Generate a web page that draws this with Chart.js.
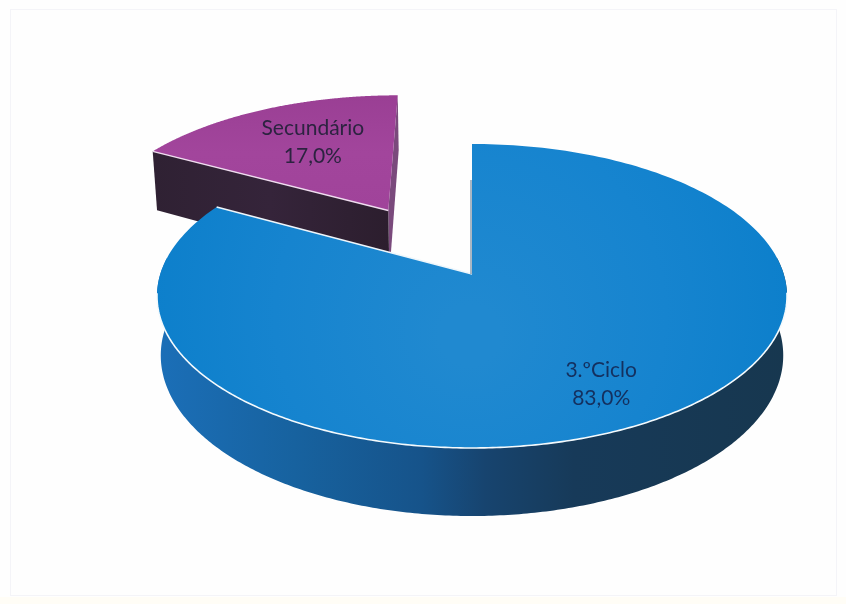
<!DOCTYPE html>
<html lang="pt">
<head>
<meta charset="utf-8">
<style>
html,body{margin:0;padding:0;background:#fefefe;}
#wrap{width:846px;height:604px;}
canvas{display:block;filter:blur(0.45px);}
</style>
<script src="https://cdn.jsdelivr.net/npm/chart.js@4"></script>
</head>
<body>
<div id="wrap"><canvas id="c" width="846" height="604"></canvas></div>
<script>
const categories = ["Secundário", "3.ºCiclo"];
const seriesValues = [17.0, 83.0];
const sliceOffsets = [127, 0];
const valueLabels = ["17,0%", "83,0%"];
const labelRadii = [0.68, 0.76];
const labelNudges = [[8, 2.5], [-4, 3]];
const labelColors = ["#2c2340", "#14305f"];
const wallDepths = [1.15, 1];
const sliceShifts = [[-4.5, 0.5], [0, 0]];

// projection of the pie plane
const VIEW = {cx:472, cy:274, a:311.7, b:148.8, p:0.1447, depth:58.2, taper:0.012};
function project(u, v, z) {
  const w = 1 - VIEW.p * v;
  return {
    x: VIEW.cx + VIEW.a * u / w * (1 - VIEW.taper * z),
    y: VIEW.cy + VIEW.b * v / w + z * VIEW.depth / w
  };
}
function arcGeom(arc, shift) {
  const mid = (arc.startAngle + arc.endAngle) / 2;
  const off = (arc.options.offset || 0) / arc.outerRadius;
  return {mid, ox: Math.cos(mid) * off, oy: Math.sin(mid) * off, s: arc.startAngle, e: arc.endAngle, shift};
}
function pt(g, r, ang, z) {
  const q = project(g.ox + r * Math.cos(ang), g.oy + r * Math.sin(ang), z);
  return {x: q.x + g.shift[0], y: q.y + g.shift[1]};
}
function quad(ctx, pts, fill) {
  ctx.beginPath();
  pts.forEach((q, i) => i ? ctx.lineTo(q.x, q.y) : ctx.moveTo(q.x, q.y));
  ctx.closePath();
  ctx.fillStyle = fill;
  ctx.fill();
}
function topFace(ctx, g, fill) {
  ctx.beginPath();
  const a = pt(g, 0, 0, 0);
  ctx.moveTo(a.x, a.y);
  const n = 240;
  for (let i = 0; i <= n; i++) {
    const q = pt(g, 1, g.s + (g.e - g.s) * i / n, 0);
    ctx.lineTo(q.x, q.y);
  }
  ctx.closePath();
  ctx.fillStyle = fill;
  ctx.fill();
}
function line(ctx, a, b, color, w) {
  ctx.beginPath(); ctx.moveTo(a.x, a.y); ctx.lineTo(b.x, b.y);
  ctx.strokeStyle = color; ctx.lineWidth = w; ctx.stroke();
}

const pie3d = {
  id: "pie3d",
  beforeDraw(chart) {
    const ctx = chart.ctx;
    ctx.save();
    ctx.fillStyle = "#fefefe";
    ctx.fillRect(0, 0, chart.width, chart.height);
    ctx.strokeStyle = "#f4f4f8";
    ctx.lineWidth = 1;
    ctx.strokeRect(10.5, 9.5, 826, 586);
    ctx.fillStyle = "#fffdf6";
    ctx.fillRect(0, 597, chart.width, 7);
    ctx.restore();
  },
  beforeDatasetDraw(chart) {
    const ctx = chart.ctx;
    const arcs = chart.getDatasetMeta(0).data;
    const gP = arcGeom(arcs[0], sliceShifts[0]);
    const gB = arcGeom(arcs[1], sliceShifts[1]);
    ctx.save();

    // exploded slice
    const zP = wallDepths[0];
    const pA0 = pt(gP, 0, 0, 0), pA1 = pt(gP, 0, 0, zP);
    const pL0 = pt(gP, 1, gP.s, 0), pL1 = pt(gP, 1, gP.s, zP);
    const pR0 = pt(gP, 1, gP.e, 0), pR1 = pt(gP, 1, gP.e, zP);
    quad(ctx, [pR0, pR1, pA1, pA0], "#7a4a7c");
    const darkP = ctx.createLinearGradient(pL0.x, 0, pA0.x, 0);
    darkP.addColorStop(0, "#2f2133");
    darkP.addColorStop(0.5, "#35243a");
    darkP.addColorStop(1, "#2c1e2e");
    quad(ctx, [pA0, pL0, pL1, pA1], darkP);
    const topP = ctx.createLinearGradient(0, pR0.y, 0, pA0.y);
    topP.addColorStop(0, "#9a3f94");
    topP.addColorStop(0.5, "#a2459c");
    topP.addColorStop(1, "#a0439a");
    topFace(ctx, gP, topP);
    line(ctx, pL0, pA0, "#efdcef", 1.5);

    // main slice: outer wall
    const side = ctx.createLinearGradient(155, 0, 790, 0);
    side.addColorStop(0, "#1b6fb8");
    side.addColorStop(0.22, "#17629f");
    side.addColorStop(0.42, "#16538a");
    side.addColorStop(0.52, "#17446f");
    side.addColorStop(0.66, "#173a59");
    side.addColorStop(1, "#17374f");
    const steps = 480;
    ctx.beginPath();
    let started = false;
    const wallIdx = [];
    for (let i = 0; i <= steps; i++) {
      const ang = gB.s + (gB.e - gB.s) * i / steps;
      if (Math.sin(ang) > -0.12) wallIdx.push(ang);
    }
    wallIdx.forEach(ang => {
      const q = pt(gB, 1, ang, 0);
      started ? ctx.lineTo(q.x, q.y) : ctx.moveTo(q.x, q.y);
      started = true;
    });
    wallIdx.slice().reverse().forEach(ang => {
      const q = pt(gB, 1, ang, wallDepths[1]);
      ctx.lineTo(q.x, q.y);
    });
    ctx.closePath();
    ctx.fillStyle = side;
    ctx.fill();

    // main slice: top
    const topB = ctx.createRadialGradient(470, 335, 30, 470, 300, 330);
    topB.addColorStop(0, "#2089d0");
    topB.addColorStop(0.55, "#1684cf");
    topB.addColorStop(1, "#0c7fcb");
    topFace(ctx, gB, topB);

    // bright rim on front edge, inner edges
    ctx.beginPath();
    let first = true;
    wallIdx.forEach(ang => {
      if (Math.sin(ang) < 0.12) return;
      const q = pt(gB, 1, ang, 0);
      first ? ctx.moveTo(q.x, q.y) : ctx.lineTo(q.x, q.y);
      first = false;
    });
    ctx.strokeStyle = "#f4fafd";
    ctx.lineWidth = 1.6;
    ctx.stroke();
    const bA = pt(gB, 0, 0, 0);
    const bE = pt(gB, 1, gB.e, 0);
    line(ctx, bA, bE, "#eef6fb", 1.6);
    line(ctx, {x: bA.x - 1, y: bA.y}, {x: bA.x - 1, y: bA.y - 94}, "#56708a", 1);

    // labels
    ctx.textAlign = "center";
    ctx.textBaseline = "middle";
    ctx.font = '21px Lato, "Open Sans", sans-serif';
    [gP, gB].forEach((g, i) => {
      const q = pt(g, labelRadii[i], g.mid, 0);
      const x = q.x + labelNudges[i][0] + (i === 0 ? 4.5 : 0), y = q.y + labelNudges[i][1];
      ctx.fillStyle = labelColors[i];
      ctx.fillText(categories[i], x, y - 14);
      ctx.fillText(valueLabels[i], x, y + 14);
    });
    ctx.restore();
    return false;
  }
};

new Chart(document.getElementById("c"), {
  type: "pie",
  plugins: [pie3d],
  data: {
    labels: categories,
    datasets: [{
      data: seriesValues,
      offset: sliceOffsets,
      borderWidth: 0,
      backgroundColor: ["#a0439a", "#1184cf"]
    }]
  },
  options: {
    responsive: false,
    animation: false,
    rotation: -61.2,
    layout: {padding: 0},
    plugins: {legend: {display: false}, tooltip: {enabled: false}, title: {display: false}}
  }
});
</script>
</body>
</html>
